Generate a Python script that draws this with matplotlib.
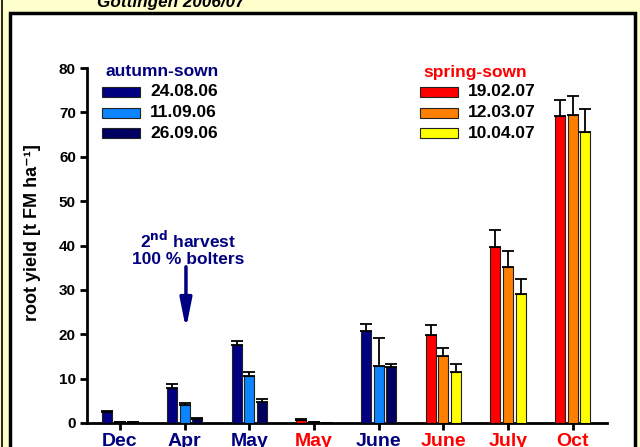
import matplotlib
matplotlib.use("Agg")
import matplotlib.pyplot as plt
from matplotlib.patches import Rectangle
import numpy as np

plt.rcParams['font.family'] = ['Liberation Sans', 'DejaVu Sans']
plt.rcParams['font.weight'] = 'bold'
plt.rcParams['mathtext.default'] = 'bf'

months = ['Dec', 'Apr', 'May', 'May', 'June', 'June', 'July', 'Oct']
month_colors = ['#000080', '#000080', '#000080', '#FF0000',
                '#000080', '#FF0000', '#FF0000', '#FF0000']

# autumn-sown groups (Dec, Apr, May, June)
aut_idx = [0, 1, 2, 4]
aut_labels = ['24.08.06', '11.09.06', '26.09.06']
aut_vals = [[2.5, 8.0, 17.6, 20.8],
            [0.2, 4.0, 10.5, 12.8],
            [0.2, 1.0, 4.7, 12.6]]
aut_err = [[0.1, 0.8, 0.8, 1.4],
           [0.0, 0.5, 1.0, 6.3],
           [0.0, 0.1, 0.6, 0.8]]
aut_colors = ['#000080', '#0A84FF', '#000060']

# spring-sown groups (May, June, July, Oct)
spr_idx = [3, 5, 6, 7]
spr_labels = ['19.02.07', '12.03.07', '10.04.07']
spr_vals = [[0.7, 19.9, 39.6, 69.1],
            [0.2, 15.0, 35.1, 69.5],
            [0.0, 11.4, 29.0, 65.6]]
spr_err = [[0.1, 2.2, 4.0, 3.6],
           [0.0, 2.0, 3.6, 4.2],
           [0.0, 2.0, 3.4, 5.2]]
spr_colors = ['#FF0000', '#FF8000', '#FFFF00']

fig = plt.figure(figsize=(6.4, 4.47), dpi=100)
fig.patch.set_facecolor('#FFFFCC')

# white panel with black border
panel = Rectangle((10 / 640, -0.05), 625 / 640, 1 - 13 / 447 + 0.05,
                  transform=fig.transFigure, facecolor='white',
                  edgecolor='black', linewidth=2.5, zorder=-10)
fig.patches.append(panel)
fig.add_artist(plt.Line2D([1.5 / 640, 1.5 / 640], [0, 1], color='black',
                          linewidth=1.2, transform=fig.transFigure, zorder=-5))

fig.text(171 / 640, 1 - 7 / 447, 'Göttingen 2006/07', ha='center', va='baseline',
         fontsize=12.3, fontstyle='italic', fontweight='bold')

ax = fig.add_axes([87 / 640, 1 - 423 / 447, 520 / 640, 355 / 447])
ax.set_facecolor('none')

w = 0.155
off = 0.196
ekw = dict(ecolor='black', elinewidth=1.3, capthick=1.3)
for k in range(3):
    xs = np.array(aut_idx) + (k - 1) * off
    ax.bar(xs, aut_vals[k], width=w, color=aut_colors[k], edgecolor='#222222',
           linewidth=0.8, yerr=[np.zeros(4), aut_err[k]], capsize=4.5,
           error_kw=ekw, zorder=3)
    xs = np.array(spr_idx) + (k - 1) * off
    ax.bar(xs, spr_vals[k], width=w, color=spr_colors[k], edgecolor='#222222',
           linewidth=0.8, yerr=[np.zeros(4), spr_err[k]], capsize=4.5,
           error_kw=ekw, zorder=3)

ax.set_xlim(-0.51, 7.53)
ax.set_ylim(0, 80)
ax.set_yticks(range(0, 81, 10))
ax.set_xticks(range(len(months)))
ax.set_xticklabels(months, fontsize=14, fontweight='bold')
for lbl, c in zip(ax.get_xticklabels(), month_colors):
    lbl.set_color(c)
ax.tick_params(axis='y', labelsize=11, width=2, length=5, pad=3)
ax.tick_params(axis='x', width=2, length=5, pad=2)
for s in ['top', 'right']:
    ax.spines[s].set_visible(False)
for s in ['left', 'bottom']:
    ax.spines[s].set_linewidth(2)
fig.text(33 / 640, 1 - 233 / 447, 'root yield [t FM ha⁻¹]', fontsize=13,
         fontweight='bold', rotation=90, ha='center', va='center')

# legends drawn by hand
def legend_block(x0, title, tcolor, labels, colors):
    fig.text(x0 + 3 / 640, 1 - 72 / 447, title, color=tcolor, fontsize=12.5,
             fontweight='bold', va='center', ha='left')
    for i, (lab, c) in enumerate(zip(labels, colors)):
        yc = 1 - (92 + i * 20.5) / 447
        fig.patches.append(Rectangle((x0, yc - 5 / 447), 38 / 640, 10 / 447,
                                     transform=fig.transFigure, facecolor=c,
                                     edgecolor='#222222', linewidth=0.8))
        fig.text(x0 + 48 / 640, yc, lab, fontsize=12.5, fontweight='bold',
                 va='center', ha='left')

legend_block(102 / 640, 'autumn-sown', '#000080', aut_labels, aut_colors)
legend_block(420 / 640, 'spring-sown', '#FF0000', spr_labels, spr_colors)

ax.text(1.05, 39.4, '2$^{nd}$ harvest\n100 % bolters', color='#000080',
        fontsize=12.5, fontweight='bold', ha='center', va='center',
        linespacing=1.05)
ax.annotate('', xy=(1.02, 21.2), xytext=(1.02, 35.2),
            arrowprops=dict(arrowstyle='-|>,head_length=1.1,head_width=0.22',
                            color='#000080', lw=2.5, mutation_scale=16,
                            shrinkA=0, shrinkB=0))

fig.savefig('out.png', dpi=100, facecolor=fig.get_facecolor())
